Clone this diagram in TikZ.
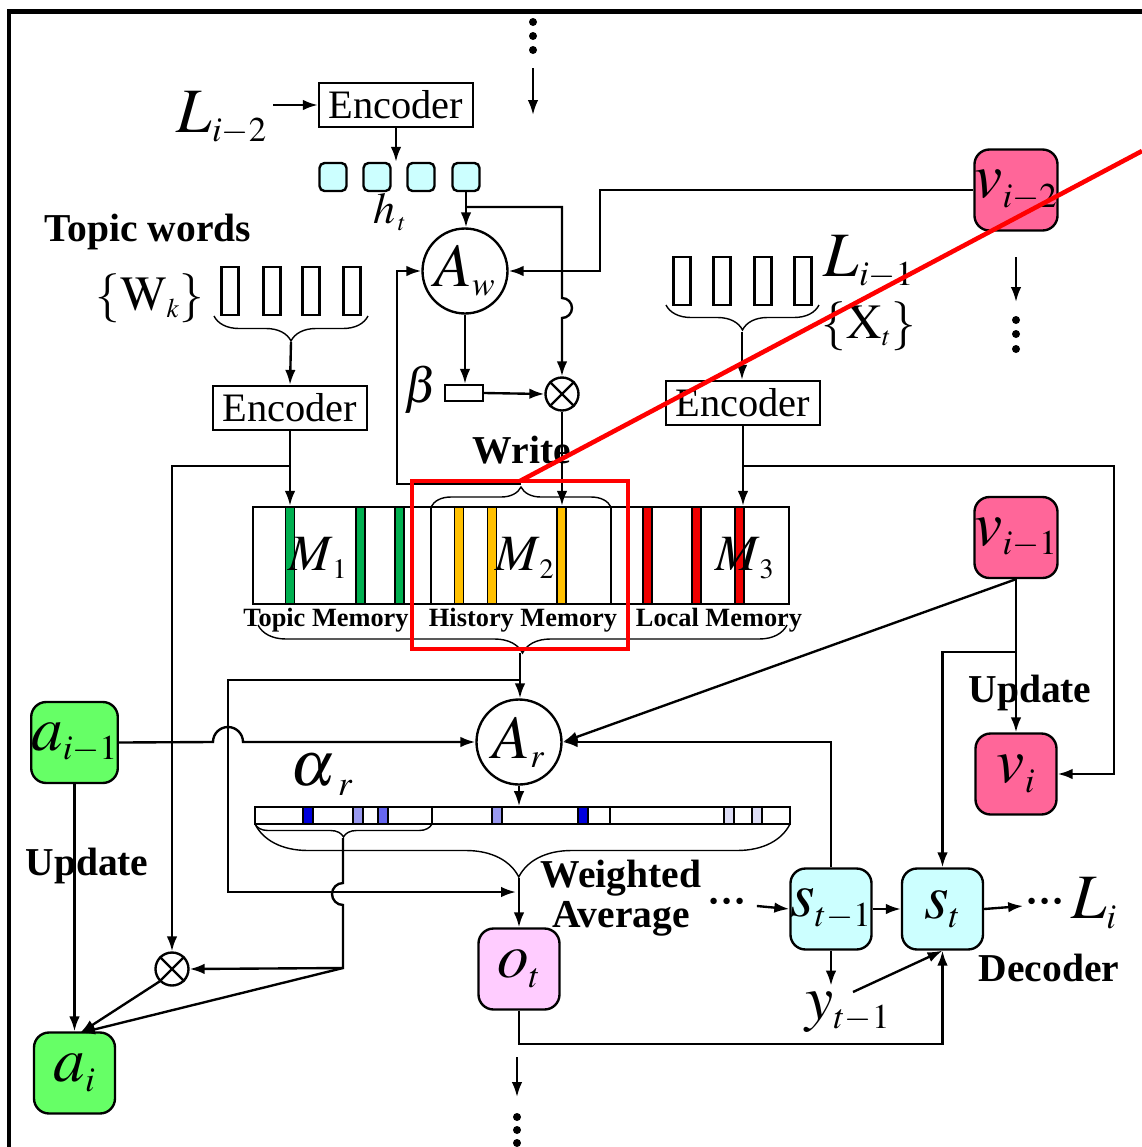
\documentclass[tikz,border=0pt]{standalone}
\usepackage{mathptmx}
\usepackage{fontspec}
\setmainfont{Liberation Serif}
\usetikzlibrary{arrows.meta,decorations.pathreplacing,positioning}
\renewcommand\defaultscriptratio{.55}

\definecolor{vpink}{RGB}{255,102,153}
\definecolor{agreen}{RGB}{102,255,102}
\definecolor{scyan}{RGB}{204,255,255}
\definecolor{opink}{RGB}{255,204,255}
\definecolor{mgreen}{RGB}{0,176,80}
\definecolor{myellow}{RGB}{255,192,0}
\definecolor{mred}{RGB}{240,0,0}
\definecolor{bdark}{RGB}{0,0,220}
\definecolor{bmid}{RGB}{102,102,240}
\definecolor{blight}{RGB}{153,153,240}
\definecolor{bpale}{RGB}{221,221,245}

\tikzset{
    ln/.style={line width=1.35pt},
    arr/.style={ln, -{Latex[length=8.5pt,width=6pt]}},
    enc/.style={draw, ln, minimum width=3.08cm, minimum height=0.88cm, inner sep=0pt, font=\fontsize{23}{23}\selectfont},
    att/.style={circle, draw, ln, minimum size=1.7cm, inner sep=0pt, font=\fontsize{35}{35}\selectfont},
    mul/.style={circle, draw, ln, minimum size=0.66cm, inner sep=0pt},
    cell/.style={draw, ln, rounded corners=0.3cm, minimum size=1.62cm, inner sep=0pt, font=\fontsize{36}{36}\selectfont},
    vcell/.style={cell, fill=vpink},
    acell/.style={cell, fill=agreen},
    scell/.style={cell, fill=scyan},
    ocell/.style={cell, fill=opink},
    hsq/.style={draw, ln, fill=scyan, rounded corners=0.1cm, minimum width=0.54cm, minimum height=0.56cm, inner sep=0pt},
    wrect/.style={draw, ln, minimum width=0.34cm, minimum height=0.96cm, inner sep=0pt},
    big/.style={font=\fontsize{36}{36}\selectfont},
    mid/.style={font=\fontsize{28}{28}\selectfont},
    lbl/.style={font=\fontsize{22.5}{22.5}\selectfont\bfseries},
    memlbl/.style={font=\fontsize{15}{15}\selectfont\bfseries},
    brc/.style={decorate, decoration={brace, amplitude=#1}, line width=0.8pt}
    }

\begin{document}
\begin{tikzpicture}[x=0.02cm, y=-0.02cm]
    \useasboundingbox (0,0) rectangle (1142,1147);
    % frame
    \draw[line width=2.6pt] (9,1147) -- (9,11.5) -- (1142,11.5);

    % word attention (write)
    \node (ln2) [big] at (222,118) {$L_{i-2}$};
    \node (enc1) [enc] at (396,105) {Encoder};
    \foreach \x [count=\k] in {333,377,421,466}
        \node (h\k) [hsq] at (\x,177) {};
    \node (ht) [font=\fontsize{25}{25}\selectfont] at (390,212) {$h_{\,t}$};
    \node (Aw) [att] at (465,271) {$A_w$};
    \node (beta) [mid] at (421,390) {$\beta$};
    \node (bbox) [draw, ln, minimum width=0.76cm, minimum height=0.32cm, inner sep=0pt] at (464,393) {};
    \node (m1) [mul] at (562,394) {};
    \draw[ln] (m1.north west) -- (m1.south east) (m1.north east) -- (m1.south west);
    \node (wr) [lbl] at (522,450) {Write};

    % topic words
    \node (tw) [lbl] at (148,232) {Topic words};
    \node (wk) [mid] at (150,298) {$\{\mathrm{W}_k\}$};
    \foreach \x [count=\k] in {230,272,311,352}
        \node (t\k) [wrect] at (\x,291) {};
    \draw[brc=0.5cm] (368,316) -- (214,316);
    \coordinate (ttip) at (291,342);
    \node (enc2) [enc] at (290,408) {Encoder};

    % local words
    \foreach \x [count=\k] in {682,722,763,803}
        \node (r\k) [wrect] at (\x,281) {};
    \node (li1) [big] at (869,262) {$L_{i-1}$};
    \node (xt) [mid] at (869,326) {$\{\mathrm{X}_t\}$};
    \draw[brc=0.5cm] (819,305) -- (666,305);
    \coordinate (rtip) at (742,332);
    \node (enc3) [enc] at (743,403) {Encoder};

    % memory
    \node (mem) [draw, ln, minimum width=10.72cm, minimum height=1.94cm, inner sep=0pt] at (521,555.5) {};
    \foreach \x/\c in {290/mgreen,360.5/mgreen,399.5/mgreen,459/myellow,492/myellow,561.5/myellow,647.5/mred,696.5/mred,739.5/mred}
        \filldraw[fill=\c, line width=0.9pt] (\x-4.5,507) rectangle (\x+4.5,604);
    \draw[line width=0.8pt] (431,507) -- (431,604) (611,507) -- (611,604);
    \draw[brc=0.4cm] (431,507) -- (611,507);
    \coordinate (wtip) at (521,484);
    \node (M1) [font=\fontsize{29}{29}\selectfont] at (318,558) {$M_{\,1}$};
    \node (M2) [font=\fontsize{29}{29}\selectfont] at (525,558) {$M_{\,2}$};
    \node (M3) [font=\fontsize{29}{29}\selectfont] at (745,558) {$M_{\,3}$};
    \node (tm) [memlbl] at (326,620) {Topic Memory};
    \node (hm) [memlbl] at (523,620) {History Memory};
    \node (lm) [memlbl] at (719,620) {Local Memory};
    \draw[brc=0.56cm] (787,625) -- (258,625);
    \coordinate (mtip) at (520,653);

    % reading
    \node (vi2) [vcell] at (1016,190) {$v_{i-2}$};
    \node (vi1) [vcell] at (1016,537.5) {$v_{i-1}$};
    \node (vi) [vcell] at (1016,774) {$v_i$};
    \node (ai1) [acell] at (74.5,742.5) {$a_{i-1}$};
    \node (ai) [acell] at (74.5,1073) {$a_i$};
    \node (Ar) [att] at (519,742) {$A_r$};
    \node (alr) [big] at (322,775) {$\alpha_{\,\,r}$};
    \node (abar) [draw, line width=1pt, minimum width=10.7cm, minimum height=0.34cm, inner sep=0pt] at (522.5,815.5) {};
    \foreach \a/\c in {303/bdark,353/blight,378/bmid,492/blight,578/bdark,724/bpale,752/bpale}
        \filldraw[fill=\c, line width=0.6pt] (\a,807) rectangle (\a+10,824);
    \draw[line width=0.8pt] (432,807) -- (432,824) (610,807) -- (610,824);
    \draw[brc=0.26cm] (432,824) -- (255,824);
    \draw[decorate, decoration={brace, amplitude=1.06cm, aspect=0.507}, line width=0.8pt] (790,824) -- (255,824);
    \coordinate (stip) at (343,838);
    \coordinate (btip) at (519,878);
    \node (m2) [mul] at (172,969) {};
    \draw[ln] (m2.north west) -- (m2.south east) (m2.north east) -- (m2.south west);
    \node (ot) [ocell] at (519,969) {$o_t$};
    \node (wa) [lbl, align=center] at (621,898) {Weighted\\Average};
    \node (up1) [lbl] at (1030,693) {Update};
    \node (up2) [lbl] at (87,866) {Update};

    % decoder
    \node (st1) [scell] at (831,909) {$s_{t-1}$};
    \node (st) [scell] at (942.5,909) {$s_t$};
    \node (dl) [lbl, inner sep=1pt] at (727,906) {···};
    \node (dr) [lbl, inner sep=1pt] at (1045,906) {···};
    \node (li) [big] at (1094,903) {$L_i$};
    \node (dec) [lbl] at (1049,968) {Decoder};
    \node (yt1) [big] at (848,1012) {$y_{t-1}$};
    \coordinate (yj) at (853,992);

    % connectors
    \draw[arr] (ln2.east |- enc1.west) -- (enc1.west);
    \draw[arr] (enc1.south) -- (enc1.south |- h1.north);
    \draw[arr] (h4.south) -- (h4.south |- Aw.north);
    \coordinate (hb) at (466,207);
    \draw[arr] (hb) -- (hb -| m1) -- (562,298) arc[start angle=90, end angle=-90, radius=0.2cm] -- (m1.north);
    \draw[arr] (vi2.west) -| (600,271) -- (Aw.east);
    \draw[arr] (wtip) -- (397,484) |- (Aw.west);
    \draw[arr] (Aw.south) -- (Aw.south |- bbox.north);
    \draw[arr] (bbox.east) -- (m1.west);
    \draw[arr] (m1.south) -- (m1.south |- mem.north);
    \draw[arr] (ttip) -- (enc2.north);
    \draw[arr] (enc2.south) -- (enc2.south |- mem.north);
    \coordinate (tj) at (290,466);
    \draw[arr] (tj) -| (m2.north);
    \draw[arr] (rtip) -- (rtip |- enc3.north);
    \draw[arr] (enc3.south) -- (enc3.south |- mem.north);
    \coordinate (ej) at (743,466);
    \draw[arr] (ej) -- (1114,466) |- (vi.east);
    \draw[arr] (mtip) -- (mtip |- Ar.north);
    \coordinate (lb) at (228,680);
    \coordinate (wj) at (516,892);
    \draw[arr] (mtip |- lb) -- (lb) |- (wj);
    \draw[arr] (ai1.east) -- (213,742) arc[start angle=180, end angle=0, radius=0.3cm] -- (Ar.west);
    \draw[arr] (vi1.south) -- (Ar.east);
    \draw[arr] (st1.north) |- (Ar.east);
    \draw[arr] (vi1.south) -- (vi.north);
    \coordinate (vj) at (1016,652);
    \draw[arr] (vj) -| (st.north);
    \draw[arr] (Ar.south) -- (Ar.south |- abar.north);
    \coordinate (sj) at (343,968);
    \coordinate (aitop) at (80,1033);
    \draw[arr] (stip) -- (343,883) arc[start angle=90, end angle=270, radius=0.22cm] -- (sj) -- (m2.east);
    \draw[arr] (sj) -- (aitop);
    \draw[arr] (m2.south west) -- (aitop);
    \draw[arr] (ai1.south) -- (ai.north);
    \draw[arr] (btip) -- (ot.north);
    \draw[arr] (ot.south) -- ++(0,33) -| (st.south);
    \draw[arr] (dl.east) ++(8,0) -- (st1.west);
    \draw[arr] (st1.east) -- (st1.east -| st.west);
    \draw[arr] (st.east) -- (dr.west);
    \draw[arr] (st1.south) -- (st1.south |- yt1.north);
    \draw[arr] (yj) -- (st.south);

    % continuation marks
    \draw[arr] (533,68) -- (533,115);
    \draw[arr] (1016,257) -- (1016,302);
    \draw[arr] (517,1057) -- (517,1097);
    \foreach \y in {22,36,50} \fill (533,\y) circle[radius=0.08cm];
    \foreach \y in {320,334,349} \fill (1016,\y) circle[radius=0.08cm];
    \foreach \y in {1117,1130,1143} \fill (517,\y) circle[radius=0.08cm];

    % highlight
    \draw[red, line width=2.6pt] (412,481) rectangle (628,649);
    \draw[red, line width=2.6pt] (520,481) -- (1142,151);
\end{tikzpicture}
\end{document}
